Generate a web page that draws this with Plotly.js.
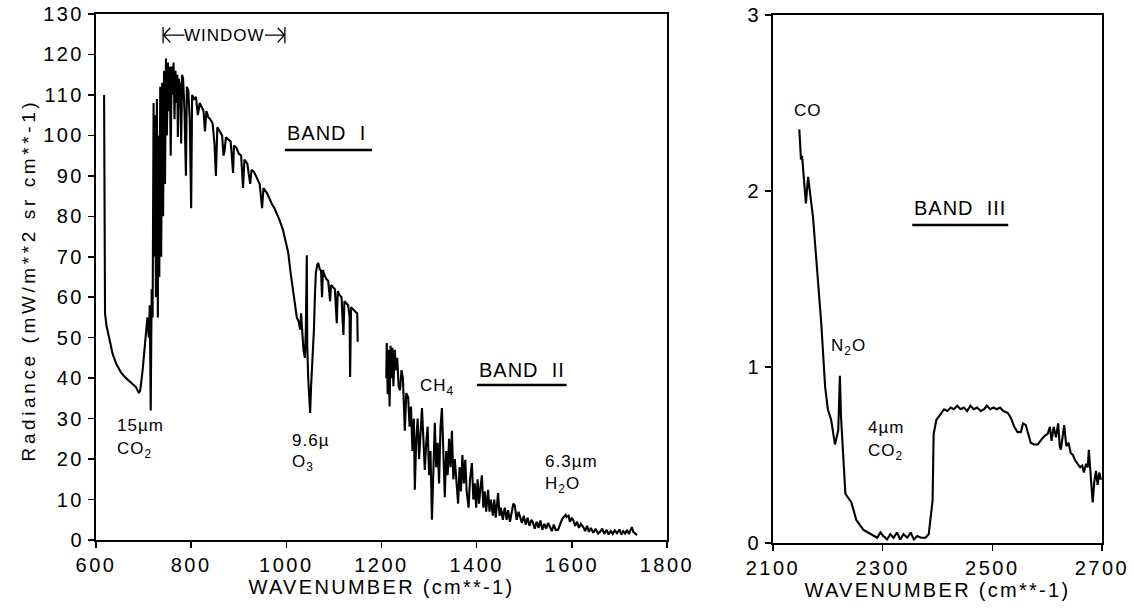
<!DOCTYPE html>
<html>
<head>
<meta charset="utf-8">
<script src="https://cdn.plot.ly/plotly-3.0.1.min.js"></script>
<style>
  html, body { margin: 0; padding: 0; background: #ffffff; }
  #chart { width: 1134px; height: 611px; }
  g.xtick text, g.ytick text, g.x2tick text, g.y2tick text { letter-spacing: 2.5px; }
  text.xtitle, text.x2title { letter-spacing: 2.3px; }
  text.annotation-text { letter-spacing: 1px; }
  g.annotation[data-index="15"] text.annotation-text { letter-spacing: 3.6px; }
</style>
</head>
<body>
<div id="chart"></div>
<script>
// ---------- DATA ----------
// Band I (600 - 1150 cm-1)
var band1Wn = [617,618,619,622,627,635,642,652,663,674,684,690,693,698,703,705,708,711,713,715,717,719,721,722,724,726,728,730,731,733,735,737,739,741,743,745,747,749,751,753,755,757,759,761,763,765,767,769,771,772,774,777,779,781,783,786,789,791,794,797,800,802,806,810,814,818,822,826,829,832,836,840,845,849,852,855,860,865,868,870,873,878,883,886,888,890,895,900,905,909,912,918,922,924,927,932,938,944,949,952,959,965,970,975,980,986,993,998,1004,1009,1014,1018,1022,1026,1029,1031,1033,1036,1039,1041,1043,1044,1046,1048,1050,1052,1054,1056,1058,1060,1062,1065,1067,1070,1073,1075,1077,1080,1084,1088,1090,1092,1094,1098,1102,1106,1108,1112,1116,1118,1120,1122,1126,1130,1133,1134,1136,1140,1145,1149,1150];
var band1Rad = [110,60,56,53,50,46,43.7,41.5,40,38.8,37.8,36.3,37,42,48,51,55,50,58,32,62,55,108,70,105,60,109,55,100,65,112,70,113,80,116,88,119,100,118,106,117,95,117,110,118,104,116,108,115,99.6,114,112,98,115,114,106,90,112,111,104,82,110,109,109.5,105,108,107,106,101,106,104.5,104,103,98,90,102,101,100,95,96,99.5,99,98.5,94,90.7,97.5,97,95.5,95,87,94,93,90,88,91.5,91,89.5,88,82,87,85.8,84,83,82,80.8,79,76.6,74,71,66,61.8,58,55,54,52,56,51,47,45,52,70.4,48,40,36,31.4,38,42,45,52,60,66,68,68.5,67,66.5,60,66.7,65.5,64.5,64,60,59,63,62.5,62,53.6,61.5,60.5,60,55,50.7,59,58.5,58,55,40.3,57.5,57,56.5,56,49];

// Band II (1210 - 1740 cm-1)
var band2Wn = [1210,1211,1213,1215,1217,1219,1221,1223,1225,1228,1230,1233,1236,1239,1242,1245,1249,1252,1256,1259,1262,1265,1268,1270,1273,1276,1279,1282,1285,1288,1291,1294,1297,1300,1303,1306,1309,1312,1315,1318,1321,1324,1327,1330,1333,1336,1339,1342,1345,1348,1351,1354,1358,1361,1364,1367,1370,1373,1376,1379,1383,1386,1390,1393,1396,1399,1402,1405,1408,1411,1414,1417,1420,1424,1427,1430,1434,1437,1440,1445,1448,1451,1455,1459,1463,1466,1470,1474,1477,1480,1484,1488,1491,1495,1499,1503,1507,1511,1515,1518,1522,1526,1530,1534,1538,1542,1546,1550,1554,1558,1562,1566,1571,1575,1579,1583,1587,1589,1593,1596,1600,1603,1607,1611,1615,1619,1624,1628,1632,1636,1640,1645,1650,1655,1659,1664,1668,1673,1677,1682,1686,1690,1695,1700,1704,1708,1712,1716,1720,1723,1726,1729,1733,1737];
var band2Rad = [40,48.7,36,47,33,48,40,47.5,38,47,42,45,38,37,42,40,27,36.3,35.3,28,33,22,30,12.4,25,30,20,28,32.6,25,17.3,24,28,16,22,5,20,29,18,24,14,28,32.6,20,10.6,22,16,25,18,27,15,20,12,9,18,12,21,14,19.8,12,8,15,19,10,14,8,15,9,13,16,8,12,7,12.4,7,10,6,10,5.5,11.6,6,8,5,8,5,7.4,4.5,7,9,8.6,5,7,5.7,4.2,6,3.8,5.5,3.5,5,4.4,2.8,4.5,3,4.8,2.5,4,2.8,4.2,3.2,2.2,3.8,2.5,2.5,4,5,5.7,6.2,5.7,6,4.5,5.5,4.9,3.5,4.5,3,4,3.2,2.2,3.5,2,3,1.8,2.8,1.6,2,2.8,1.5,2.5,1.4,2.2,1.5,2.4,1.7,2.6,1.3,2.2,1.6,2.5,1.5,2.4,3.2,2,1.5,1.2];

// Band III (2148 - 2700 cm-1)
var band3Wn = [2148,2151,2153,2160,2164,2173,2179,2188,2195,2200,2206,2213,2219,2222,2224,2228,2232,2243,2252,2265,2283,2290,2296,2301,2308,2314,2320,2326,2332,2338,2345,2351,2357,2363,2370,2378,2384,2388,2391,2393,2398,2405,2412,2418,2424,2430,2436,2442,2448,2454,2460,2466,2472,2479,2485,2490,2496,2502,2508,2514,2520,2528,2534,2540,2546,2552,2556,2561,2566,2570,2576,2583,2590,2596,2601,2605,2608,2612,2616,2620,2623,2625,2628,2631,2635,2639,2643,2647,2651,2656,2660,2664,2667,2671,2674,2676,2679,2681,2683,2686,2689,2692,2695,2698];
var band3Rad = [2.35,2.18,2.2,1.93,2.08,1.85,1.61,1.25,0.89,0.76,0.70,0.56,0.64,0.95,0.72,0.47,0.28,0.23,0.13,0.074,0.045,0.03,0.06,0.04,0.02,0.05,0.03,0.06,0.02,0.05,0.03,0.06,0.02,0.04,0.03,0.03,0.05,0.15,0.24,0.62,0.70,0.73,0.76,0.75,0.77,0.76,0.78,0.76,0.77,0.75,0.78,0.76,0.77,0.75,0.76,0.78,0.76,0.77,0.76,0.77,0.75,0.74,0.71,0.66,0.63,0.63,0.68,0.67,0.61,0.57,0.56,0.56,0.59,0.61,0.62,0.66,0.58,0.66,0.60,0.68,0.55,0.53,0.60,0.67,0.55,0.57,0.51,0.50,0.47,0.45,0.43,0.44,0.40,0.45,0.43,0.53,0.40,0.30,0.23,0.35,0.41,0.33,0.40,0.36];

var leftTicks = [600, 800, 1000, 1200, 1400, 1600, 1800];
var rightTicks = [2100, 2300, 2500, 2700];

// ---------- STYLE ----------
var FONT = 'Liberation Sans, Arial, Helvetica, sans-serif';
var lineStyle = {color: '#000000', width: 2.1};

var traces = [
  {x: band1Wn, y: band1Rad, type: 'scatter', mode: 'lines', line: lineStyle, xaxis: 'x', yaxis: 'y', hoverinfo: 'skip'},
  {x: band2Wn, y: band2Rad, type: 'scatter', mode: 'lines', line: lineStyle, xaxis: 'x', yaxis: 'y', hoverinfo: 'skip'},
  {x: band3Wn, y: band3Rad, type: 'scatter', mode: 'lines', line: lineStyle, xaxis: 'x2', yaxis: 'y2', hoverinfo: 'skip'}
];

var axisCommon = {
  showline: true, mirror: true, linecolor: '#000', linewidth: 2,
  ticks: 'outside', ticklen: 6, tickwidth: 1.5, tickcolor: '#000',
  showgrid: false, zeroline: false,
  tickfont: {family: FONT, size: 20, color: '#000'}
};

function ann(xref, yref, x, y, text, size, anchor) {
  return {xref: xref, yref: yref, x: x, y: y, text: text, showarrow: false,
          xanchor: anchor || 'left', yanchor: 'middle',
          font: {family: FONT, size: size, color: '#000'}};
}

var annotations = [
  ann('x','y', 871, 124.8, 'WINDOW', 17, 'center'),
  ann('x','y', 997, 100.6, 'BAND  I', 20),
  ann('x','y', 640, 28.4, '15µm', 17),
  ann('x','y', 640, 22.2, 'CO<sub>2</sub>', 17),
  ann('x','y', 1008, 24.7, '9.6µ', 17),
  ann('x','y', 1008, 19.0, 'O<sub>3</sub>', 17),
  ann('x','y', 1277, 37.8, 'CH<sub>4</sub>', 17),
  ann('x','y', 1401, 42.0, 'BAND  II', 20),
  ann('x','y', 1539, 19.3, '6.3µm', 17),
  ann('x','y', 1539, 13.6, 'H<sub>2</sub>O', 17),
  ann('x2','y2', 2135, 2.46, 'CO', 17),
  ann('x2','y2', 2354, 1.903, 'BAND  III', 20),
  ann('x2','y2', 2202, 1.114, 'N<sub>2</sub>O', 17),
  ann('x2','y2', 2270, 0.659, '4µm', 17),
  ann('x2','y2', 2270, 0.517, 'CO<sub>2</sub>', 17),
  // y axis title (index 15)
  {xref: 'paper', yref: 'paper', x: 28/1134, y: 1 - 280/611, text: 'Radiance (mW/m**2 sr cm**-1)',
   textangle: -90, showarrow: false, xanchor: 'center', yanchor: 'middle',
   font: {family: FONT, size: 19, color: '#000'}}
];

var shapes = [
  // band underlines
  {type: 'line', xref: 'x', yref: 'y', x0: 997, x1: 1180, y0: 96.4, y1: 96.4, line: {color: '#000', width: 2.5}},
  {type: 'line', xref: 'x', yref: 'y', x0: 1401, x1: 1589, y0: 38.3, y1: 38.3, line: {color: '#000', width: 2.5}},
  {type: 'line', xref: 'x2', yref: 'y2', x0: 2354, x1: 2529, y0: 1.807, y1: 1.807, line: {color: '#000', width: 2.5}},
  // WINDOW bracket: end bars
  {type: 'line', xref: 'x', yref: 'y', x0: 741, x1: 741, y0: 122.8, y1: 126.8, line: {color: '#000', width: 1.3}},
  {type: 'line', xref: 'x', yref: 'y', x0: 997, x1: 997, y0: 122.8, y1: 126.8, line: {color: '#000', width: 1.3}},
  // WINDOW arrows
  {type: 'path', xref: 'x', yref: 'y', path: 'M 786 124.8 L 742 124.8 M 756 126.6 L 742 124.8 L 756 123.0', line: {color: '#000', width: 1.3}},
  {type: 'path', xref: 'x', yref: 'y', path: 'M 955 124.8 L 996 124.8 M 982 126.6 L 996 124.8 L 982 123.0', line: {color: '#000', width: 1.3}}
];

var layout = {
  width: 1134, height: 611,
  margin: {l: 0, r: 0, t: 0, b: 0},
  paper_bgcolor: '#ffffff', plot_bgcolor: '#ffffff',
  showlegend: false,
  font: {family: FONT, color: '#000'},
  xaxis: Object.assign({}, axisCommon, {
    domain: [96/1134, 667/1134], range: [600, 1800], tickvals: leftTicks, anchor: 'y',
    title: {text: 'WAVENUMBER (cm**-1)', font: {family: FONT, size: 20, color: '#000'}, standoff: 4}
  }),
  yaxis: Object.assign({}, axisCommon, {
    domain: [71/611, 597/611], range: [0, 130], dtick: 10, tick0: 0, anchor: 'x'
  }),
  xaxis2: Object.assign({}, axisCommon, {
    domain: [773/1134, 1102/1134], range: [2100, 2700], tickvals: rightTicks, anchor: 'y2',
    title: {text: 'WAVENUMBER (cm**-1)', font: {family: FONT, size: 20, color: '#000'}, standoff: 4}
  }),
  yaxis2: Object.assign({}, axisCommon, {
    domain: [68/611, 596/611], range: [0, 3], dtick: 1, tick0: 0, anchor: 'x2'
  }),
  annotations: annotations,
  shapes: shapes
};

Plotly.newPlot('chart', traces, layout, {staticPlot: true, displayModeBar: false});
</script>
</body>
</html>
